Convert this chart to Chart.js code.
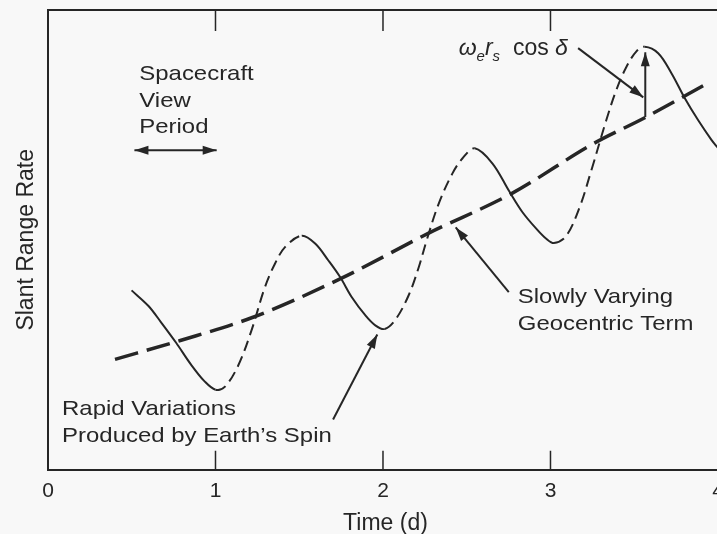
<!DOCTYPE html>
<html lang="en">
<head>
<meta charset="UTF-8">
<title>Slant Range Rate</title>
<style>
  html, body { margin: 0; padding: 0; background: #f8f8f8; overflow: hidden; }
  #chart { display: block; }
</style>
</head>
<body>
<canvas id="chart" width="735" height="534"></canvas>
<script src="https://cdn.jsdelivr.net/npm/chart.js"></script>
<script>
// time (days) and slant range rate (arbitrary units, 0-100)
const trendDays   = [0.40, 0.79, 1.22, 1.75, 2.27, 2.77, 3.26, 3.56, 3.95];
const trendValues = [24.0, 28.1, 33.1, 41.6, 51.4, 60.1, 71.0, 76.5, 84.3];

const waveDays = [
    0.499, 0.600, 0.676, 0.765, 0.855, 0.935, 1.000,
    1.055, 1.135, 1.215, 1.295, 1.355, 1.415, 1.515,
    1.595, 1.674, 1.744, 1.814, 1.894, 1.954, 2.010,
    2.074, 2.154, 2.214, 2.264, 2.334, 2.414, 2.474, 2.548,
    2.654, 2.753, 2.833, 2.923, 2.973, 3.021,
    3.093, 3.173, 3.243, 3.333, 3.393, 3.453, 3.513, 3.562,
    3.643, 3.723, 3.802, 3.882, 3.962, 4.002
];
const waveValues = [
    39.0, 35.6, 32.0, 27.6, 22.8, 19.2, 17.4,
    18.0, 22.6, 30.3, 39.7, 44.8, 48.4, 50.9,
    49.2, 45.5, 41.9, 37.5, 33.6, 31.4, 30.6,
    32.6, 38.0, 44.1, 50.3, 58.0, 64.4, 67.7, 69.9,
    66.6, 60.6, 56.0, 52.1, 50.3, 49.3,
    50.8, 57.0, 65.0, 76.0, 82.6, 87.6, 91.0, 92.0,
    90.6, 86.2, 80.8, 76.0, 71.7, 69.9
];

const xTicks = [0, 1, 2, 3, 4];

const ink = '#262626';
const family = '"Liberation Sans", Arial, sans-serif';

// text notes, anchored in data units (left edge, first baseline)
const notes = [
    { lines: ['Spacecraft', 'View', 'Period'], x: 0.545, y: 84.7 },
    { lines: ['Slowly Varying', 'Geocentric Term'], x: 2.805, y: 36.2 },
    { lines: ['Rapid Variations', 'Produced by Earth\u2019s Spin'], x: 0.084, y: 11.8 }
];

// arrows, also in data units
const arrows = [
    { from: [0.516, 69.5], to: [1.007, 69.5], both: true },
    { from: [3.165, 91.7], to: [3.554, 81.0] },
    { from: [3.566, 76.7], to: [3.566, 90.8] },
    { from: [2.751, 38.6], to: [2.434, 52.7] },
    { from: [1.702, 10.9], to: [1.966, 29.4] }
];

function head(ctx, x0, y0, x1, y1) {
    const a = Math.atan2(y1 - y0, x1 - x0);
    const len = 14, w = 4.5;
    ctx.beginPath();
    ctx.moveTo(x1, y1);
    ctx.lineTo(x1 - len * Math.cos(a) + w * Math.sin(a), y1 - len * Math.sin(a) - w * Math.cos(a));
    ctx.lineTo(x1 - len * Math.cos(a) - w * Math.sin(a), y1 - len * Math.sin(a) + w * Math.cos(a));
    ctx.closePath();
    ctx.fill();
}

const annotate = {
    id: 'annotate',
    afterDraw(chart) {
        const { ctx, chartArea: area, scales: { x, y } } = chart;
        ctx.save();
        ctx.strokeStyle = ink;
        ctx.fillStyle = ink;

        // top frame line
        ctx.lineWidth = 2;
        ctx.beginPath();
        ctx.moveTo(area.left, area.top);
        ctx.lineTo(area.right, area.top);
        ctx.stroke();

        // inward tick marks, top and bottom
        ctx.lineWidth = 1.5;
        x.ticks.forEach(t => {
            if (t.value <= 0 || t.value >= 4) return;
            const px = x.getPixelForValue(t.value);
            ctx.beginPath();
            ctx.moveTo(px, area.bottom);
            ctx.lineTo(px, area.bottom - 19);
            ctx.moveTo(px, area.top);
            ctx.lineTo(px, area.top + 21);
            ctx.stroke();
        });

        // notes (the scanned lettering runs a bit wide)
        ctx.font = '21px ' + family;
        ctx.textBaseline = 'alphabetic';
        notes.forEach(n => {
            const px = x.getPixelForValue(n.x);
            const py = y.getPixelForValue(n.y);
            n.lines.forEach((line, i) => {
                ctx.save();
                ctx.translate(px, py + i * 26.5);
                ctx.scale(1.14, 1);
                ctx.fillText(line, 0, 0);
                ctx.restore();
            });
        });

        // omega_e r_s cos delta
        let px = x.getPixelForValue(2.452);
        const py = y.getPixelForValue(90.2);
        const parts = [
            { t: '\u03c9', f: 'italic 23px ', dy: 0 },
            { t: 'e', f: 'italic 15px ', dy: 6 },
            { t: 'r', f: 'italic 23px ', dy: 0 },
            { t: 's', f: 'italic 15px ', dy: 6 },
            { t: '  cos ', f: '23px ', dy: 0 },
            { t: '\u03b4', f: 'italic 23px ', dy: 0 }
        ];
        parts.forEach(p => {
            ctx.font = p.f + family;
            ctx.fillText(p.t, px, py + p.dy);
            px += ctx.measureText(p.t).width;
        });

        // arrows
        ctx.lineWidth = 2;
        arrows.forEach(a => {
            const x0 = x.getPixelForValue(a.from[0]), y0 = y.getPixelForValue(a.from[1]);
            const x1 = x.getPixelForValue(a.to[0]), y1 = y.getPixelForValue(a.to[1]);
            ctx.beginPath();
            ctx.moveTo(x0, y0);
            ctx.lineTo(x1, y1);
            ctx.stroke();
            head(ctx, x0, y0, x1, y1);
            if (a.both) head(ctx, x1, y1, x0, y0);
        });
        ctx.restore();
    }
};

new Chart(document.getElementById('chart'), {
    type: 'line',
    data: {
        datasets: [
            {
                label: 'Geocentric term',
                data: trendDays.map((d, i) => ({ x: d, y: trendValues[i] })),
                borderColor: ink,
                borderWidth: 3.5,
                borderDash: [24, 9],
                pointRadius: 0,
                cubicInterpolationMode: 'monotone',
                fill: false
            },
            {
                label: 'Slant range rate',
                data: waveDays.map((d, i) => ({ x: d, y: waveValues[i] })),
                borderColor: ink,
                borderWidth: 2,
                pointRadius: 0,
                tension: 0.35,
                fill: false,
                segment: {
                    borderDash: c => c.p1.parsed.y > c.p0.parsed.y ? [11, 6] : undefined
                }
            }
        ]
    },
    options: {
        responsive: false,
        animation: false,
        events: [],
        layout: { padding: { left: 15, right: 12, top: 10, bottom: 0 } },
        plugins: { legend: { display: false }, tooltip: { enabled: false } },
        scales: {
            x: {
                type: 'linear',
                min: 0,
                max: 4.03,
                afterBuildTicks: axis => { axis.ticks = xTicks.map(v => ({ value: v })); },
                ticks: { color: ink, font: { family: family, size: 21 }, padding: 9, maxRotation: 0, autoSkip: false },
                grid: { display: false, drawTicks: false },
                border: { display: true, color: ink, width: 2 },
                title: { display: true, text: 'Time (d)', color: ink, font: { family: family, size: 23, lineHeight: 0.92 }, padding: 0 }
            },
            y: {
                min: 0,
                max: 100,
                ticks: { display: false },
                grid: { display: false, drawTicks: false },
                border: { display: true, color: ink, width: 2 },
                title: { display: true, text: 'Slant Range Rate', color: ink, font: { family: family, size: 23, lineHeight: 1 }, padding: { top: 0, bottom: 10 } }
            }
        }
    },
    plugins: [annotate]
});
</script>
</body>
</html>
